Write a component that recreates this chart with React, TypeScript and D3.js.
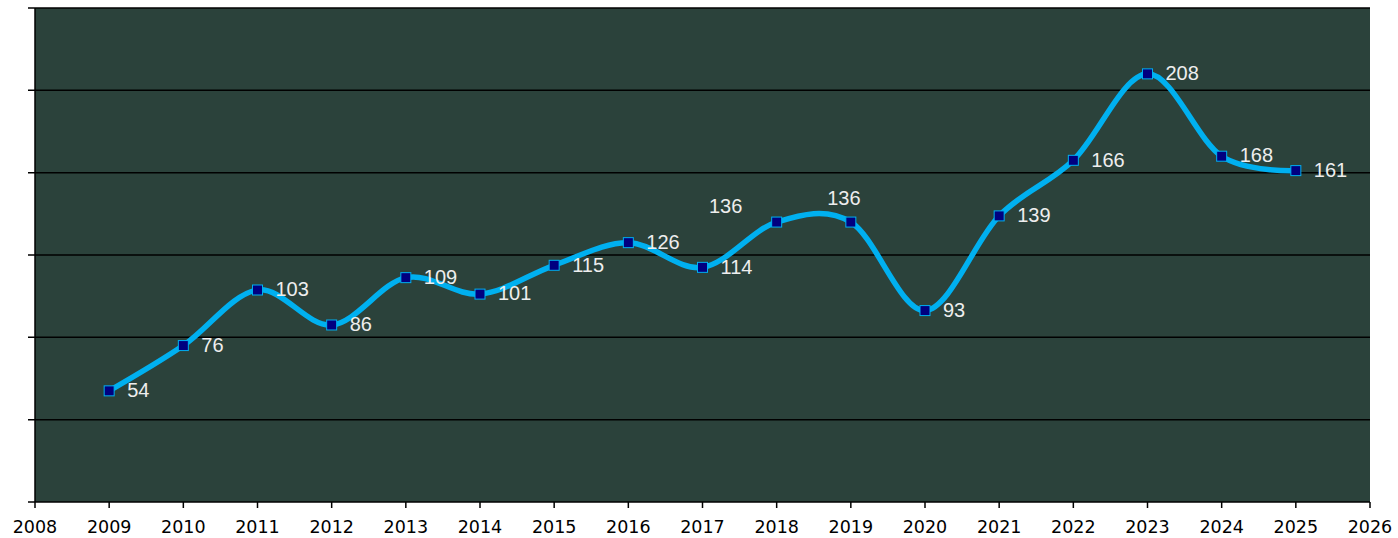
import React, { useEffect, useRef } from 'react';
import * as d3 from 'd3';

const years = [2009, 2010, 2011, 2012, 2013, 2014, 2015, 2016, 2017, 2018, 2019, 2020, 2021, 2022, 2023, 2024, 2025];
const values = [54, 76, 103, 86, 109, 101, 115, 126, 114, 136, 136, 93, 139, 166, 208, 168, 161];
// where each data label sits relative to its point
const labelPlace = ['right', 'right', 'right', 'right', 'right', 'right', 'right', 'right', 'right', 'upleft', 'above', 'right', 'right', 'right', 'right', 'right', 'right'];
const xTicks = d3.range(2008, 2027);
const yTicks = [0, 40, 80, 120, 160, 200, 240];

const W = 1398;
const H = 538;
const margin = { top: 8, right: 28, bottom: 36, left: 35 };

export default function App() {
  const ref = useRef<SVGSVGElement>(null);

  useEffect(() => {
    const svg = d3.select(ref.current);
    svg.selectAll('*').remove();

    const x = d3.scaleLinear().domain([2008, 2026]).range([margin.left, W - margin.right]);
    const y = d3.scaleLinear().domain([0, 240]).range([H - margin.bottom, margin.top]);

    // plot background
    svg.append('rect')
      .attr('x', x(2008))
      .attr('y', y(240))
      .attr('width', x(2026) - x(2008))
      .attr('height', y(0) - y(240))
      .attr('fill', '#2b423b');

    // horizontal gridlines + left ticks
    svg.selectAll('.grid')
      .data(yTicks)
      .enter()
      .append('line')
      .attr('x1', x(2008) - 7)
      .attr('x2', x(2026))
      .attr('y1', d => y(d))
      .attr('y2', d => y(d))
      .attr('stroke', '#000')
      .attr('stroke-width', 1.5);

    // left axis
    svg.append('line')
      .attr('x1', x(2008)).attr('x2', x(2008))
      .attr('y1', y(240)).attr('y2', y(0))
      .attr('stroke', '#000').attr('stroke-width', 1.5);

    // bottom ticks and labels
    svg.selectAll('.xtick')
      .data(xTicks)
      .enter()
      .append('line')
      .attr('x1', d => x(d)).attr('x2', d => x(d))
      .attr('y1', y(0)).attr('y2', y(0) + 6)
      .attr('stroke', '#000').attr('stroke-width', 1.5);

    svg.selectAll('.xlabel')
      .data(xTicks)
      .enter()
      .append('text')
      .attr('x', d => x(d))
      .attr('y', y(0) + 31)
      .attr('text-anchor', 'middle')
      .attr('font-family', 'DejaVu Sans, Verdana, sans-serif')
      .attr('font-size', 17.5)
      .attr('fill', '#000')
      .text(d => d);

    const pts: [number, number][] = years.map((yr, i) => [x(yr), y(values[i])]);

    const line = d3.line().curve(d3.curveCardinal.tension(0));
    svg.append('path')
      .attr('d', line(pts))
      .attr('fill', 'none')
      .attr('stroke', '#00b0f0')
      .attr('stroke-width', 5.5)
      .attr('stroke-linejoin', 'round');

    svg.selectAll('.marker')
      .data(pts)
      .enter()
      .append('rect')
      .attr('x', d => d[0] - 5)
      .attr('y', d => d[1] - 5)
      .attr('width', 10)
      .attr('height', 10)
      .attr('fill', '#000080')
      .attr('stroke', '#00b0f0')
      .attr('stroke-width', 1);

    svg.selectAll('.dlabel')
      .data(values)
      .enter()
      .append('text')
      .attr('x', (d, i) => {
        const p = labelPlace[i];
        if (p === 'upleft') return pts[i][0] - 51;
        if (p === 'above') return pts[i][0] - 7;
        return pts[i][0] + 18;
      })
      .attr('y', (d, i) => {
        const p = labelPlace[i];
        if (p === 'upleft') return pts[i][1] - 14;
        if (p === 'above') return pts[i][1] - 22;
        return pts[i][1] + 1;
      })
      .attr('text-anchor', (d, i) => (labelPlace[i] === 'right' ? 'start' : 'middle'))
      .attr('dominant-baseline', 'middle')
      .attr('font-family', 'Liberation Sans, Arial, sans-serif')
      .attr('font-size', 20)
      .attr('fill', '#eeeeee')
      .text(d => d);
  }, []);

  return (
    <svg ref={ref} width={W} height={H} style={{ position: 'absolute', left: 0, top: 0, background: '#fff' }} />
  );
}
